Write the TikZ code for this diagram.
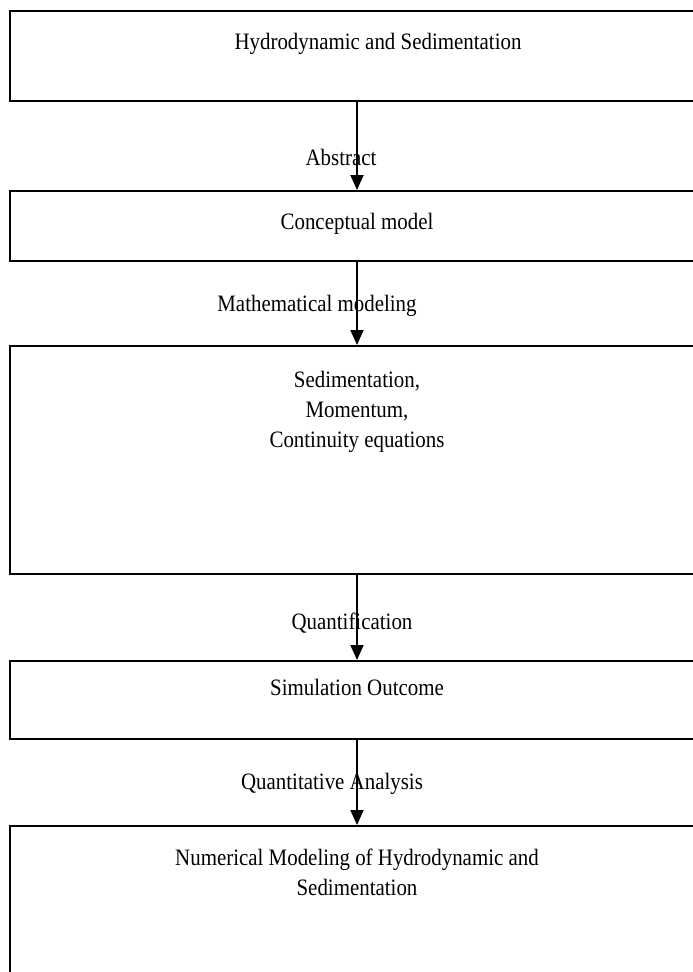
\documentclass[tikz,border=0pt]{standalone}
\usepackage{fontspec}
\setmainfont{Liberation Serif}[FakeStretch=0.89]
\usetikzlibrary{arrows.meta}
\begin{document}
\begin{tikzpicture}[x=1pt,y=-1pt]
	\tikzstyle{stage}=[rectangle,draw=black,line width=1.5pt,minimum width=694pt,inner sep=0pt,anchor=north]
	\tikzstyle{stagetext}=[anchor=north,align=center,font=\fontsize{23.5}{30}\selectfont,inner sep=0pt]
	\tikzstyle{steplabel}=[font=\fontsize{23.5}{30}\selectfont,inner sep=0pt]
	\tikzstyle{edge}=[draw=black,line width=1.8pt,-{Triangle[length=15pt,width=13pt]}]

	\useasboundingbox (0,0) rectangle (693,972);
	\clip (0,0) rectangle (693,972);

	\begin{scope}
		\node [stage,minimum height=90pt] (b1) at (357,10) {};
		\node [stage,minimum height=70pt] (b2) at (357,190) {};
		\node [stage,minimum height=228pt] (b3) at (357,345) {};
		\node [stage,minimum height=78pt] (b4) at (357,660) {};
		\node [stage,minimum height=180pt] (b5) at (357,825) {};

		\node [stagetext] (t1) at (378,33) {Hydrodynamic and Sedimentation};
		\node [stagetext] (t2) at (357,213) {Conceptual model};
		\node [stagetext] (t3) at (357,371) {Sedimentation,\\Momentum,\\Continuity equations};
		\node [stagetext] (t4) at (357,679) {Simulation Outcome};
		\node [stagetext] (t5) at (357,849) {Numerical Modeling of Hydrodynamic and\\Sedimentation};

		\path[edge] (b1) edge (b2);
		\path[edge] (b2) edge (b3);
		\path[edge] (b3) edge (b4);
		\path[edge] (b4) edge (b5);

		\node [steplabel] (l1) at (341,157) {Abstract};
		\node [steplabel] (l2) at (317,306) {Mathematical modeling};
		\node [steplabel] (l3) at (352,623) {Quantification};
		\node [steplabel] (l4) at (332,784) {Quantitative Analysis};
	\end{scope}
\end{tikzpicture}
\end{document}
